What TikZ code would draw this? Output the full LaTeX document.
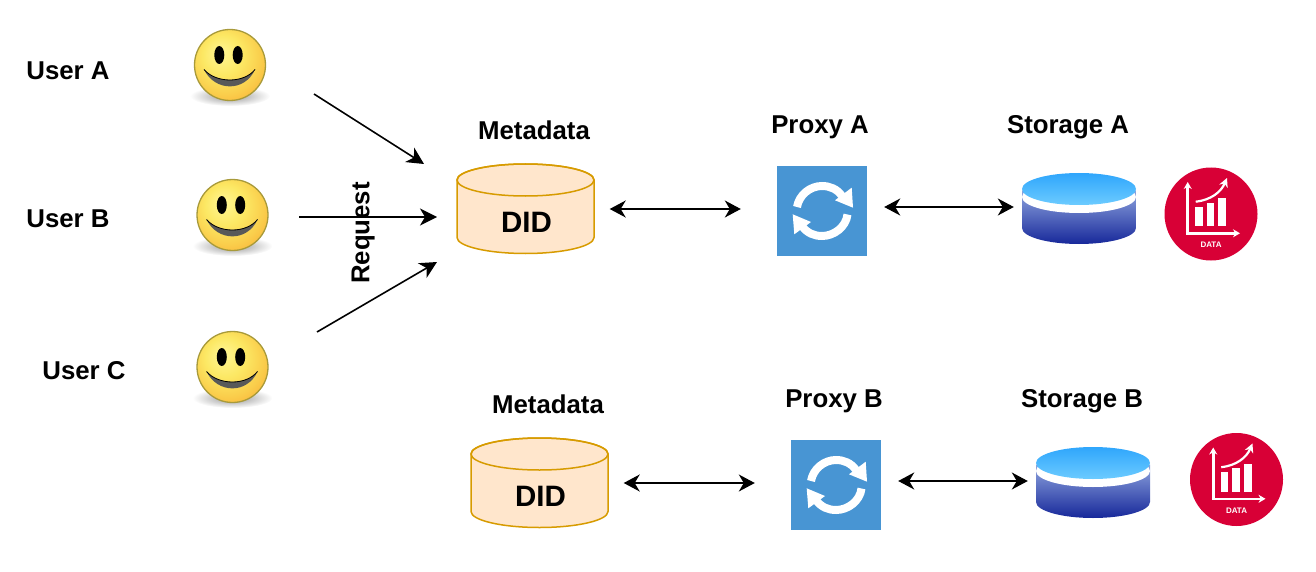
\documentclass[tikz,border=0pt]{standalone}
\usepackage{fontspec}
\setmainfont{Liberation Sans}
\usetikzlibrary{arrows.meta}
\definecolor{didfill}{HTML}{FFE6CC}
\definecolor{didline}{HTML}{D79B00}
\definecolor{syncblue}{HTML}{4895D3}
\definecolor{datared}{HTML}{D80036}
\definecolor{disktop}{HTML}{2FA6FC}
\definecolor{disklow}{HTML}{6CCBFF}
\definecolor{bodytop}{HTML}{8EA4DE}
\definecolor{bodylow}{HTML}{17289A}
\definecolor{faceedge}{HTML}{A89A3A}
\definecolor{faceA}{HTML}{FFF696}
\definecolor{faceB}{HTML}{FCE864}
\definecolor{faceC}{HTML}{FACD4B}
\definecolor{faceD}{HTML}{F8AA32}
\definecolor{faceE}{HTML}{EB9628}
\pgfdeclareradialshading{facefill}{\pgfpoint{-7bp}{9bp}}{color(0bp)=(faceA); color(14bp)=(faceB); color(26bp)=(faceC); color(38bp)=(faceD); color(60bp)=(faceE)}
\tikzset{
  label/.style={font=\bfseries\fontsize{25.8}{26}\selectfont,text depth=0pt,text height=18.6pt,inner sep=0pt},
  did/.style={minimum width=137pt,minimum height=89pt,inner sep=0pt},
  proxy/.style={fill=syncblue,minimum size=90pt,inner sep=0pt},
  store/.style={minimum width=114pt,minimum height=71pt,inner sep=0pt},
  face/.style={circle,minimum size=72pt,inner sep=0pt},
  badge/.style={circle,fill=datared,minimum size=93pt,inner sep=0pt},
  link/.style={-{Stealth[length=17pt,width=17pt,inset=5pt]},line width=1.6pt},
  both/.style={{Stealth[length=16pt,width=17pt,inset=5pt]}-{Stealth[length=16pt,width=17pt,inset=5pt]},line width=1.5pt},
  smiley/.pic={
    \shade[inner color=black!42,outer color=white,draw=none] (0,31) ellipse [x radius=40,y radius=10];
    \shade[shading=facefill,draw=none] (0,0) circle [radius=35.5];
    \draw[draw=faceedge,line width=1.3pt] (0,0) circle [radius=35.5];
    \fill[black] (-10.7,-10) ellipse [x radius=5,y radius=9];
    \fill[black] (7.7,-10) ellipse [x radius=5,y radius=9];
    \fill[black!65] (-26,4.5) .. controls (-14,18.5) and (14,18.5) .. (25,4.5) .. controls (15,27) and (-15,27) .. (-26,4.5);
    \draw[black,line width=.8pt] (-26,4.5) .. controls (-14,18.5) and (14,18.5) .. (25,4.5);
  },
  sync/.pic={
    \draw[white,line width=8pt] (-25,-4) .. controls (-23,-16) and (-12,-25) .. (0,-25) .. controls (8,-25) and (15,-22) .. (20,-15);
    \fill[white] (29.7,-23.3) -- (31,-3.3) -- (13,-10.7) -- cycle;
    \draw[white,line width=8pt] (25.5,3.5) .. controls (24,16) and (12,25) .. (0,25) .. controls (-8,25) and (-15,22) .. (-20,15);
    \fill[white] (-29.3,3.3) -- (-11,11) -- (-27.7,23.3) -- cycle;
  },
  can/.pic={
    \path[fill=didfill,draw=didline,line width=1.5pt] (-68.5,-29) -- (-68.5,28.5) .. controls (-68.5,37.3) and (-37.8,44.5) .. (0,44.5)
      .. controls (37.8,44.5) and (68.5,37.3) .. (68.5,28.5) -- (68.5,-29) .. controls (68.5,-37.8) and (37.8,-45) .. (0,-45)
      .. controls (-37.8,-45) and (-68.5,-37.8) .. cycle;
    \draw[didline,line width=1.5pt] (0,-29) ellipse [x radius=68.5,y radius=16];
    \node[font=\bfseries\fontsize{29.5}{30}\selectfont] at (1,13.5) {DID};
  },
  disk/.pic={
    \shade[top color=bodytop,bottom color=bodylow,draw=none]
      (-57,-18) -- (-57,19.5) .. controls (-57,28.3) and (-31.5,35.5) .. (0,35.5)
      .. controls (31.5,35.5) and (57,28.3) .. (57,19.5) -- (57,-18) -- cycle;
    \fill[white] (0,-11.5) ellipse [x radius=57,y radius=16];
    \shade[top color=disktop,bottom color=disklow,draw=none] (0,-19.5) ellipse [x radius=57,y radius=16];
  },
  chart/.pic={
    \draw[white,line width=2.6pt,-{Stealth[length=7pt,width=8pt]}] (-23.3,19.3) -- (-23.3,-32);
    \draw[white,line width=2.6pt,-{Stealth[length=7pt,width=8pt]}] (-24.6,19.3) -- (29,19.3);
    \fill[white] (-16,-7.3) rectangle (-8.3,12);
    \fill[white] (-4.3,-11.3) rectangle (3,12);
    \fill[white] (7.3,-15.7) rectangle (15,12);
    \draw[white,line width=2.2pt,-{Stealth[length=9pt,width=9pt]}] (-15.3,-12.3) .. controls (0,-14) and (10,-22) .. (16,-36);
    \node[text=white,font=\bfseries\fontsize{8}{8}\selectfont] at (0,31) {DATA};
  }
}
\begin{document}
\begin{tikzpicture}[x=1pt,y=-1pt]
  \useasboundingbox (0,0) rectangle (1316,572);
  \node[label] (userA) at (68,70) {User A};
  \node[label] (userB) at (68,218) {User B};
  \node[label] (userC) at (84,370) {User C};
  \node[face] (smileA) at (230,65) {};
  \node[face] (smileB) at (232.5,215) {};
  \node[face] (smileC) at (232.5,367) {};
  \pic at (smileA) {smiley};
  \pic at (smileB) {smiley};
  \pic at (smileC) {smiley};
  \node[label] (metaA) at (534,130) {Metadata};
  \node[label] (metaB) at (548,404) {Metadata};
  \node[label] (labelproxyA) at (820,124) {Proxy A};
  \node[label] (labelproxyB) at (834,398) {Proxy B};
  \node[label] (labelstoreA) at (1068,124) {Storage A};
  \node[label] (labelstoreB) at (1082,398) {Storage B};
  \node[did] (didA) at (525.5,209) {};
  \node[did] (didB) at (539.5,483) {};
  \pic at (didA) {can};
  \pic at (didB) {can};
  \node[proxy] (proxyA) at (822,211) {};
  \node[proxy] (proxyB) at (836,485) {};
  \pic at (proxyA) {sync};
  \pic at (proxyB) {sync};
  \node[store] (storeA) at (1079,207) {};
  \node[store] (storeB) at (1093,481) {};
  \pic at ([yshift=-1.5pt]storeA.center) {disk};
  \pic at ([yshift=-1.5pt]storeB.center) {disk};
  \node[badge] (dataA) at (1211,214) {};
  \node[badge] (dataB) at (1236.5,479.5) {};
  \pic at (dataA) {chart};
  \pic at (dataB) {chart};
  \coordinate (fromA) at (314,94);
  \coordinate (fromB) at (299,217);
  \coordinate (fromC) at (317,332);
  \coordinate (toA) at (424,164);
  \coordinate (toB) at (437,217);
  \coordinate (toC) at (437,262);
  \draw[link] (fromA) -- (toA);
  \draw[link] (fromB) -- (toB);
  \draw[link] (fromC) -- (toC);
  \node[label,rotate=90] (request) at (360,233) {Request};
  \begin{scope}[shorten <=15.5pt,shorten >=36pt]
    \draw[both] (didA.east) -- (proxyA.west |- didA.east);
    \draw[both] (didB.east) -- (proxyB.west |- didB.east);
  \end{scope}
  \begin{scope}[shorten <=17pt,shorten >=8pt]
    \draw[both] (proxyA.east |- storeA.west) -- (storeA.west);
    \draw[both] (proxyB.east |- storeB.west) -- (storeB.west);
  \end{scope}
\end{tikzpicture}
\end{document}
